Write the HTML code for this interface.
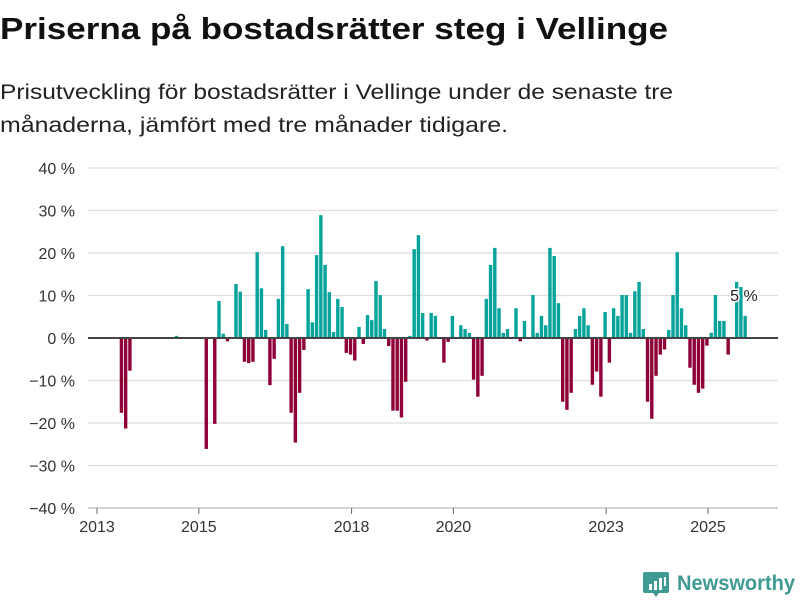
<!DOCTYPE html>
<html><head><meta charset="utf-8"><style>
body{margin:0;background:#fff;width:800px;height:600px;overflow:hidden}
svg text{font-family:"Liberation Sans","DejaVu Sans",sans-serif}
</style></head><body>
<svg id="chart" width="800" height="600" xmlns="http://www.w3.org/2000/svg">
<text x="0" y="39" font-size="31" font-weight="bold" fill="#111" textLength="668" lengthAdjust="spacingAndGlyphs">Priserna på bostadsrätter steg i Vellinge</text>
<text x="0" y="99" font-size="21" fill="#222" textLength="673" lengthAdjust="spacingAndGlyphs">Prisutveckling för bostadsrätter i Vellinge under de senaste tre</text>
<text x="0" y="132" font-size="21" fill="#222" textLength="508" lengthAdjust="spacingAndGlyphs">månaderna, jämfört med tre månader tidigare.</text>
<g id="grid"></g><g id="bars"></g><g id="axes"></g>
<g>
<path d="M645,572 h22 a2,2 0 0 1 2,2 v17 a2,2 0 0 1 -2,2 h-8 l-3,4 l-3,-4 h-8 a2,2 0 0 1 -2,-2 v-17 a2,2 0 0 1 2,-2z" fill="#3f9a93"/>
<rect x="649" y="584" width="3" height="6" fill="#fff"/><rect x="654" y="581" width="3" height="9" fill="#fff"/><rect x="659" y="578" width="3" height="12" fill="#fff"/><rect x="664" y="577" width="2" height="9" fill="#fff"/>
<text x="677" y="590" font-size="21" font-weight="bold" fill="#3f9a93" textLength="118" lengthAdjust="spacingAndGlyphs">Newsworthy</text>
</g>
</svg>
<script>
const values=[0,0,0,0,0,-17.6,-21.3,-7.7,0,0,0,0,0,0,0,0,0,0,0.5,0,0,0,0,0,0,-26.1,0,-20.2,8.7,1,-0.8,0,12.7,10.9,-5.6,-5.9,-5.6,20.2,11.7,1.9,-11.1,-4.9,9.2,21.6,3.3,-17.6,-24.6,-12.9,-2.8,11.5,3.7,19.5,28.9,17.2,10.8,1.4,9.2,7.3,-3.5,-3.9,-5.3,2.6,-1.4,5.4,4.2,13.4,10.1,2.1,-1.9,-17.1,-17.1,-18.7,-10.3,0.5,20.9,24.2,5.9,-0.6,5.9,5.2,0,-5.8,-0.9,5.2,0,3,2.1,1.2,-9.8,-13.8,-8.9,9.2,17.2,21.2,7,1.2,2.1,0,7,-0.8,4,0,10.1,1.2,5.2,3,21.2,19.3,8.2,-15,-16.9,-12.9,2.1,5.2,7,3,-11,-7.9,-13.8,6.1,-5.8,7,5.2,10.1,10.1,1.2,11,13.2,2.1,-15,-19,-8.9,-3.9,-2.7,1.9,10.1,20.2,7,3,-7,-11,-12.9,-11.9,-1.8,1.2,10.1,4,4,-3.9,0,13.2,12,5.2];
const yTicks=[40,30,20,10,0,-10,-20,-30,-40];
const xTickLabels=["2013","2015","2018","2020","2023","2025"];
const xTickMonths=[0,24,60,84,120,144];
const lastLabel="5 %";
const NS="http://www.w3.org/2000/svg";
const X0=97,MW=4.243,Y0=338,PY=4.25,PL=88,PR=778;
const xs=i=>X0+i*MW, ys=v=>Y0-v*PY;
function mk(t,a,p){const e=document.createElementNS(NS,t);for(const k in a)e.setAttribute(k,a[k]);p.appendChild(e);return e;}
const grid=document.getElementById('grid'),bars=document.getElementById('bars'),axes=document.getElementById('axes');
yTicks.forEach(v=>{
 if(v!==0){const l=mk('line',{x1:PL,x2:PR,y1:ys(v),y2:ys(v),stroke:v===-40?'#bbb':'#ddd','stroke-width':1.3},grid);
 
 }
 const t=mk('text',{x:75,y:ys(v)+6,'text-anchor':'end','font-size':16,fill:'#333'},axes);
 t.textContent=(v<0?'\u2212'+(-v):v)+' %';
 
 
});
values.forEach((v,i)=>{
 if(v===0)return;
 const r=mk('rect',{x:xs(i)+1.5,width:3.4,y:Math.min(ys(v),Y0),height:Math.abs(ys(v)-Y0),fill:v>0?'#05a39a':'#8f0038'},bars);
 
 
});
const z=mk('line',{x1:PL,x2:PR,y1:Y0,y2:Y0,stroke:'#444','stroke-width':2},axes);


xTickMonths.forEach((m,k)=>{
 const tk=mk('line',{x1:xs(m),x2:xs(m),y1:508,y2:514,stroke:'#666','stroke-width':1},axes);
 
 
 const t=mk('text',{x:xs(m),y:532,'text-anchor':'middle','font-size':16,fill:'#333'},axes);
 t.textContent=xTickLabels[k];
 
 
});
const li=values.length-1;
const lab=mk('text',{x:xs(li)+2,y:301,'text-anchor':'middle','font-size':16,fill:'#222',stroke:'#fff','stroke-width':3,'paint-order':'stroke'},axes);
lab.textContent=lastLabel;


</script>
</body></html>
